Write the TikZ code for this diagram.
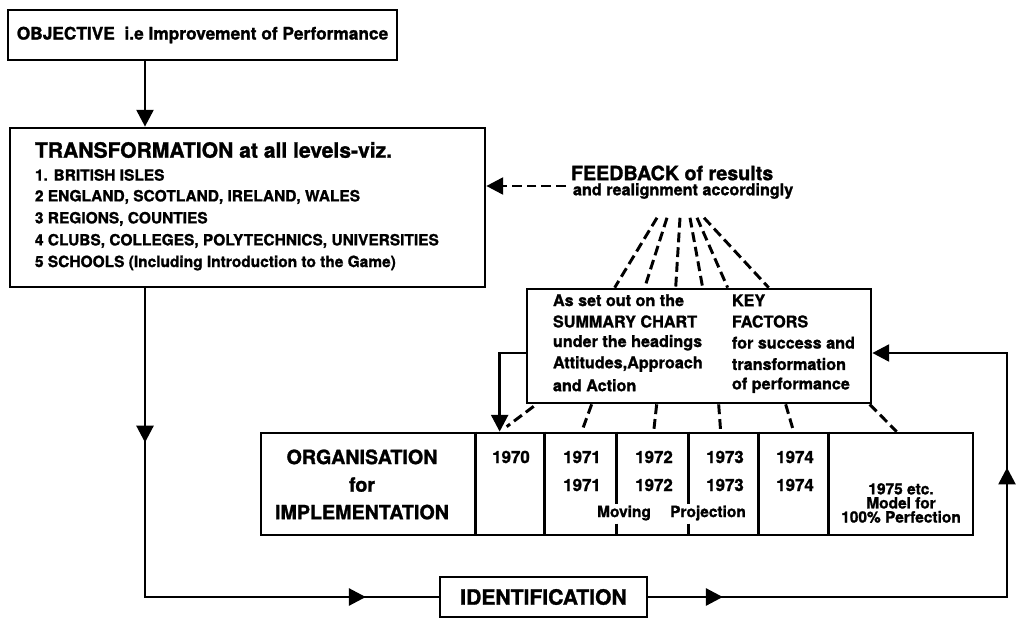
\documentclass[tikz,border=0pt]{standalone}
\usepackage{fontspec}
\setmainfont{TeX Gyre Heros}[BoldFeatures={FakeBold=1.3}]
\usepackage{tikz}
\usetikzlibrary{arrows.meta}
\usetikzlibrary{calc}
\usetikzlibrary{decorations.markings}
\newcommand{\pxl}{0.025cm}
\newcommand{\fsz}[2]{\fontsize{#1}{#2}\selectfont\bfseries}
\tikzset{
	BX/.style 2 args={draw,line width=1.9pt,inner sep=0pt,minimum width=#1*\pxl,minimum height=#2*\pxl}
}
\tikzset{
	flow/.style={line width=2.1pt},
	arr/.style={-{Triangle[length=12pt,width=12pt]}},
	fbk/.style={line width=2.1pt,dash pattern=on 7pt off 3.5pt},
	twoarr/.style 2 args={postaction={decorate},decoration={markings,
		mark=at position #1 with {\arrow{Triangle[length=12pt,width=12pt]}},
		mark=at position #2 with {\arrow{Triangle[length=12pt,width=12pt]}}}}
}

\begin{document}
\begin{tikzpicture}[x=\pxl,y=-\pxl]
	\useasboundingbox (0,0) rectangle (1017,630);
	\node[BX={389}{50},font=\fsz{12.3}{14}] (obj) at (202.5,35) {OBJECTIVE\ \ i.e Improvement of Performance};
	\node[BX={475}{159}] (trans) at (247.5,207.5) {};
	\node[anchor=west,font=\fsz{15}{18}] (transhd) at (30,150) {TRANSFORMATION at all levels-viz.};
	\foreach \t [count=\i] in {{1. BRITISH ISLES},{2 ENGLAND, SCOTLAND, IRELAND, WALES},{3 REGIONS, COUNTIES},{4 CLUBS, COLLEGES, POLYTECHNICS, UNIVERSITIES},{5 SCHOOLS (Including Introduction to the Game)}}
		\node[anchor=west,font=\fsz{11}{13}] (lv\i) at (30,153+22*\i) {\t};
	\node[anchor=west,font=\fsz{14}{16}] (fbh) at (566,173) {FEEDBACK of results};
	\node[anchor=west,font=\fsz{11.5}{13}] (fbs) at (568,191) {and realignment accordingly};
	\node[BX={344}{114}] (key) at (699,346) {};
	\foreach \l/\r [count=\i] in {As set out on the/KEY,SUMMARY CHART/FACTORS,under the headings/for success and,{Attitudes,Approach}/transformation,and Action/of performance}{
		\node[anchor=west,font=\fsz{11.5}{13}] (kl\i) at (548,279+21.25*\i) {\l};
		\node[anchor=west,font=\fsz{11.5}{13}] (kr\i) at (727,279+21.25*\i) {\r};
	}
	\node[BX={712}{102}] (tab) at (617,484) {};
	\foreach \d in {216,285,499,569}
		\draw[line width=1.9pt] ($(tab.north west)+(\d,0)$) -- ($(tab.south west)+(\d,0)$);
	\foreach \d in {357,429}{
		\draw[line width=1.9pt] ($(tab.north west)+(\d,0)$) -- ($(tab.north west)+(\d,72)$);
		\draw[line width=1.9pt] ($(tab.north west)+(\d,92)$) -- ($(tab.south west)+(\d,0)$);
	}
	\node[align=center,font=\fsz{14}{19.6}] (orgtxt) at (362,484.5) {ORGANISATION\\for\\IMPLEMENTATION};
	\foreach \x/\y in {511/1970,582/1971,654/1972,725/1973,795/1974}
		\node[font=\fsz{12}{14}] (top\y) at (\x,457) {\y};
	\foreach \x/\y in {582/1971,654/1972,725/1973,795/1974}
		\node[font=\fsz{12}{14}] (bot\y) at (\x,485) {\y};
	\node[font=\fsz{11}{13}] (mov) at (624,513) {Moving};
	\node[font=\fsz{11}{13}] (proj) at (708,513) {Projection};
	\node[align=center,font=\fsz{11}{10}] (y75) at (901,503) {1975 etc.\\Model for\\100\% Perfection};
	\node[BX={207}{40},font=\fsz{15}{18}] (ident) at (543.5,597) {IDENTIFICATION};
	\coordinate (lc) at (145,0);
	\coordinate (rc) at (1007,0);
	\coordinate (keyin) at ($(key.east)+(0,7)$);
	\draw[flow,arr] (obj.south -| lc) -- (trans.north -| lc);
	\draw[flow,twoarr={0.256}{0.879}] (trans.south -| lc) |- (ident.west);
	\draw[flow,arr,twoarr={0.101}{0.662}] (ident.east) -| (rc |- keyin) -- (keyin);
	\draw[flow,arr] ($(key.west)+(0,7)$) -| ($(tab.north west)+(240,0)$);
	\coordinate (fbo) at ($(fbh.west)+(0,13)$);
	\draw[fbk,arr] (fbo) -- (trans.east |- fbo);
	\foreach \a/\b in {89/89,99/119,112/150,122/177,129/202,136/243}
		\draw[fbk] ($(fbs.south west)+(\a,14)$) -- ($(key.north west)+(\b,0)$);
	\foreach \a/\c/\b/\e in {8/2/247/-5,66/0/322/0,131/0/394/0,193/0/461/0,260/0/534/0,344/0/637/0}
		\draw[fbk] ($(key.south west)+(\a,\c)$) -- ($(tab.north west)+(\b,\e)$);
\end{tikzpicture}
\end{document}
